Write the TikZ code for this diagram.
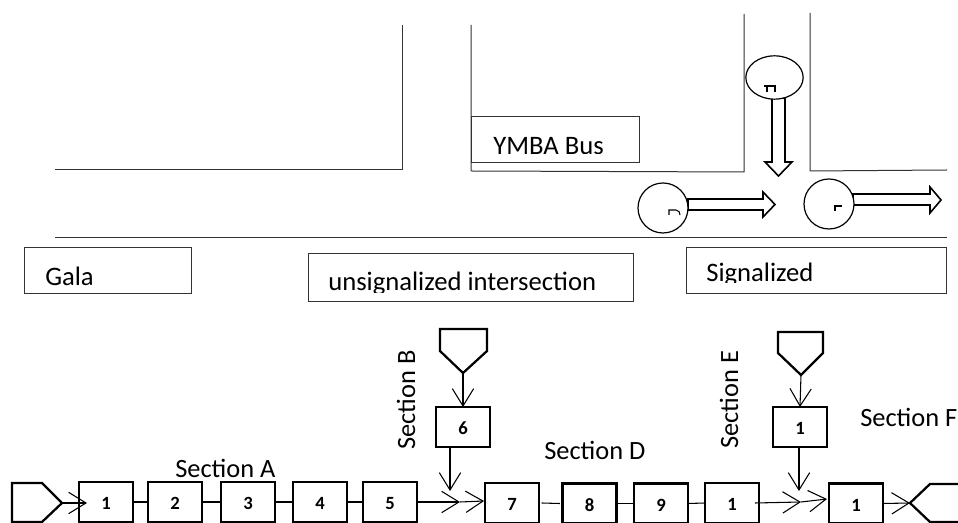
\documentclass[tikz,border=0pt]{standalone}
\usepackage{fontspec}
\setmainfont{Carlito}
\usetikzlibrary{arrows.meta,shapes.geometric}
\tikzset{
  road/.style={line width=0.75pt,draw=black!80},
  lblbox/.style={draw=black!80,line width=0.75pt},
  lbl/.style={font=\fontsize{20}{22}\selectfont,inner sep=0pt,anchor=base west},
  sect/.style={font=\fontsize{19.8}{22}\selectfont,inner sep=0pt,anchor=base west},
  cell/.style={draw=black,line width=1.7pt,minimum width=40.5pt,minimum height=30pt,inner sep=0pt,outer sep=0pt,font=\fontsize{14}{15}\selectfont\bfseries,text height=12pt,text depth=0pt},
  thinline/.style={line width=0.8pt,draw=black},
  flow/.style={line width=0.8pt,draw=black,-{Straight Barb[length=13pt,width=16pt,line width=0.8pt]}},
  term/.style={line width=1.7pt,draw=black,line join=miter},
  vehicle/.style={draw=black,line width=0.9pt,inner sep=0pt,outer sep=0pt,ellipse,fill=white},
  block/.style={draw=black,line width=1.2pt,fill=white},
  tick/.style={draw=black,line width=0.8pt},
}
\begin{document}
\begin{tikzpicture}[x=0.75pt,y=-0.75pt]
\useasboundingbox (0,0) rectangle (958,523);
% roads
\draw[road] (55,170) -- (402,170) -- (402,25);
\draw[road] (471,25) -- (471,171) -- (744,172) -- (744,14);
\draw[road] (810,13) -- (810,171) -- (947,170);
\draw[road] (55,238) -- (947,238);
% label boxes
\draw[lblbox] (471,117) rectangle (639,163);
\draw[lblbox] (24,248) rectangle (191,294);
\draw[lblbox] (308,254) rectangle (633,302);
\draw[lblbox] (686,248) rectangle (946,294);
\begin{scope}\clip (471,117) rectangle (639,153.5);
\node[lbl] (ymba) at (493,155) {YMBA Bus};\end{scope}
\node[lbl] (gala) at (45,286) {Gala};
\begin{scope}\clip (308,254) rectangle (633,292.5);
\node[lbl] (unsig) at (328,291) {unsignalized intersection};\end{scope}
\begin{scope}\clip (686,248) rectangle (946,283);
\node[lbl] (sig) at (706,282) {Signalized};\end{scope}
% vehicles
\draw[block] (772,98) -- (785,98) -- (785,162) -- (792,162) -- (778.5,176) -- (765,162) -- (772,162) -- cycle;
\draw[block] (688,199) -- (763,199) -- (763,192) -- (775,204.5) -- (763,217) -- (763,210) -- (688,210) -- cycle;
\draw[block] (853,194) -- (930,194) -- (930,187) -- (941,200) -- (930,213) -- (930,205) -- (853,205) -- cycle;
\node[vehicle,minimum width=43pt,minimum height=32.5pt] (vF) at (774.5,77.5) {};
\node[vehicle,minimum size=37.5pt] (vC) at (663,208) {};
\node[vehicle,minimum size=37.5pt] (vR) at (829,204) {};
\draw[tick] (764,86) -- (776,86) (767,86) -- (767,92) (775,86) -- (775,92);
\draw[tick] (669,215) -- (669,210) -- (676,210) .. controls (679,210) and (680,213) .. (680,215);
\draw[tick] (842,206) -- (835,206) -- (835,211);
% bottom row
\node[cell] (b1) at (106,502) {1};
\node[cell] (b2) at (175,502) {2};
\node[cell] (b3) at (248,502) {3};
\node[cell] (b4) at (320,502) {4};
\node[cell] (b5) at (390,502) {5};
\node[cell] (b7) at (512,503) {7};
\node[cell] (b8) at (589.5,503.5) {8};
\node[cell] (b9) at (661,503.5) {9};
\node[cell] (b10) at (732,503) {1};
\node[cell] (b11) at (856,503.5) {1};
\node[cell] (b6) at (463,427) {6};
\node[cell] (b12) at (800,427) {1};
% terminals
\draw[term] (62,503) coordinate (tA) -- (42,522) -- (12,522) -- (12,483) -- (42,483) -- cycle;
\draw[term] (463,373) coordinate (tB) -- (440,351) -- (440,329) -- (487,329) -- (487,351) -- cycle;
\draw[term] (801,375) coordinate (tE) -- (778,353) -- (778,332) -- (823,332) -- (823,353) -- cycle;
\draw[term] (958,484) -- (930,484) -- (910,503) coordinate (tF) -- (930,522) -- (958,522);
% connectors
\coordinate (a1) at (87,503);
\draw[flow] (tA) -- (a1);
\draw[thinline] (b1.east) -- (b2.west);
\draw[thinline] (b2.east) -- (b3.west);
\draw[thinline] (b3.east) -- (b4.west);
\draw[thinline] (b4.east) -- (b5.west);
\coordinate (m1) at (460,502);
\coordinate (m2) at (484,501);
\draw[flow] (b5.east) -- (m1);
\draw[flow] (m1) -- (m2);
\draw[flow] (tB) -- (b6.north);
\coordinate (s6) at (450,447);
\coordinate (e6) at (450,491);
\draw[flow] (s6) -- (e6);
\draw[thinline] ([xshift=2pt]b7.east) -- ([xshift=-2pt]b8.west);
\draw[thinline] (b8.east) -- (b9.west);
\draw[thinline] (b9.east) -- (b10.west);
\coordinate (m3) at (801,502);
\coordinate (m4) at (827,499);
\draw[flow] ([xshift=-3pt]b10.east) -- (m3);
\draw[flow] (m3) -- (m4);
\draw[flow] (tE) -- (b12.north);
\coordinate (s12) at (799,447);
\coordinate (e12) at (799,491);
\draw[flow] (s12) -- (e12);
\draw[flow] (b11.east) -- (tF);
% section labels
\node[sect] (sA) at (175,478) {Section A};
\node[sect] (sD) at (544,460) {Section D};
\node[sect] (sF) at (860,427) {Section F};
\node[sect,rotate=90] (sB) at (415,450) {Section B};
\node[sect,rotate=90] (sE) at (738,449) {Section E};
\end{tikzpicture}
\end{document}
